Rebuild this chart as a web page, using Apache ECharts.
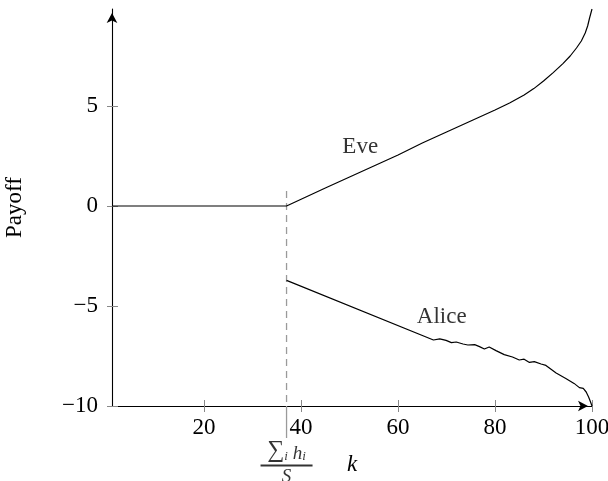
<!DOCTYPE html>
<html>
<head>
<meta charset="utf-8">
<script src="https://cdn.jsdelivr.net/npm/echarts@6/dist/echarts.min.js"></script>
<style>
html,body{margin:0;padding:0;background:#fff;}
#c{width:608px;height:481px;}
</style>
</head>
<body>
<div id="c"></div>
<script>
// ---- data ----
const xRange = [1, 100];
const yRange = [-10, 9.85];
const xTickValues = [20, 40, 60, 80, 100];
const yTickValues = [-10, -5, 0, 5];

const eveX = [1, 37, 45, 50, 55, 60, 65, 70, 75, 80, 83, 86, 88, 90, 92, 94, 95.5, 96.8, 97.8, 98.6, 99.1, 99.5, 100];
const eveY = [0, 0, 0.9, 1.45, 2.0, 2.55, 3.15, 3.7, 4.25, 4.8, 5.15, 5.55, 5.87, 6.25, 6.67, 7.12, 7.5, 7.9, 8.25, 8.65, 9.0, 9.4, 9.85];

const aliceX = [37, 67.3, 68.6, 69.9, 71, 72, 73.4, 74.4, 75.8, 76.8, 77.8, 78.8, 80.2, 81.9, 83.6, 85, 86, 87.1, 88.1, 89.5, 90.5, 92.6, 94.6, 96.3, 97.4, 98.2, 98.8, 99.3, 99.7, 100];
const aliceY = [-3.72, -6.7, -6.64, -6.72, -6.83, -6.8, -6.9, -6.95, -6.93, -7.03, -7.15, -7.05, -7.23, -7.43, -7.55, -7.7, -7.66, -7.82, -7.78, -7.9, -7.97, -8.35, -8.62, -8.87, -9.08, -9.12, -9.3, -9.55, -9.8, -10];

const thresholdX = 37;          // sum_i h_i / S
const thresholdDash = [0.75, -10];
const thresholdTick = [-10, -11.6];

const curveLabels = [
  {name: 'Eve', x: 52.2, y: 2.95},
  {name: 'Alice', x: 69.0, y: -5.55}
];
const xName = 'k';
const yName = 'Payoff';

// ---- chart ----
const zip = (a, b) => a.map((v, i) => [v, b[i]]);
const serif = 'Liberation Serif';
const chart = echarts.init(document.getElementById('c'), null, {renderer: 'canvas'});

const baseX = {
  type: 'value', min: xRange[0], max: xRange[1], gridIndex: 0,
  splitLine: {show: false}
};
const baseY = {
  type: 'value', min: yRange[0], max: yRange[1], gridIndex: 0,
  splitLine: {show: false}
};

chart.setOption({
  animation: false,
  backgroundColor: '#fff',
  grid: {left: 112, right: 16, top: 9, bottom: 75, containLabel: false, outerBoundsMode: 'none'},
  xAxis: [
    Object.assign({}, baseX, {
      position: 'bottom',
      name: xName, nameLocation: 'middle', nameGap: 47,
      nameTextStyle: {fontFamily: serif, fontStyle: 'italic', fontSize: 23, color: '#000'},
      axisLine: {show: true, onZero: false, symbol: ['none', 'arrow'], symbolSize: [8, 10], symbolOffset: [0, -4],
        lineStyle: {color: '#000', width: 1.1}},
      axisTick: {show: true, inside: false, length: 6, customValues: xTickValues, lineStyle: {color: '#888', width: 1}},
      axisLabel: {show: true, customValues: xTickValues, margin: 10, fontFamily: serif, fontSize: 23, color: '#000'}
    }),
    Object.assign({}, baseX, {
      position: 'bottom',
      axisLine: {show: false, onZero: false},
      axisTick: {show: true, inside: true, length: 6, customValues: xTickValues, lineStyle: {color: '#888', width: 1}},
      axisLabel: {show: false}
    })
  ],
  yAxis: [
    Object.assign({}, baseY, {
      position: 'left',
      name: yName, nameLocation: 'middle', nameGap: 86, nameRotate: 90,
      nameTextStyle: {fontFamily: serif, fontSize: 23, color: '#000'},
      axisLine: {show: true, onZero: false, symbol: ['none', 'arrow'], symbolSize: [8, 10], symbolOffset: [0, -4],
        lineStyle: {color: '#000', width: 1.1}},
      axisTick: {show: true, inside: false, length: 5, customValues: yTickValues, lineStyle: {color: '#888', width: 1}},
      axisLabel: {show: true, customValues: yTickValues, margin: 14, fontFamily: serif, fontSize: 23, color: '#000',
        formatter: v => (v < 0 ? '\u2212' + Math.abs(v) : String(v))}
    }),
    Object.assign({}, baseY, {
      position: 'left',
      axisLine: {show: false, onZero: false},
      axisTick: {show: true, inside: true, length: 6, customValues: yTickValues, lineStyle: {color: '#888', width: 1}},
      axisLabel: {show: false}
    })
  ],
  series: [
    {
      type: 'line', name: 'threshold-dash', xAxisIndex: 0, yAxisIndex: 0,
      data: [[thresholdX, thresholdDash[0]], [thresholdX, thresholdDash[1]]],
      symbol: 'none', silent: true, z: 1,
      lineStyle: {color: '#9a9a9a', width: 1.3, type: [7, 5]}
    },
    {
      type: 'line', name: 'threshold-tick', xAxisIndex: 0, yAxisIndex: 0, clip: false,
      data: [[thresholdX, thresholdTick[0]], [thresholdX, thresholdTick[1]]],
      symbol: 'none', silent: true, z: 1,
      lineStyle: {color: '#9a9a9a', width: 1.3}
    },
    {
      type: 'scatter', name: 'threshold-label', xAxisIndex: 0, yAxisIndex: 0, clip: false,
      data: [[thresholdX, thresholdTick[1]]], symbolSize: 0, silent: true,
      label: {
        show: true, position: 'bottom', distance: 3,
        formatter: '{sum|\u2211}{sub|i}{h| h}{sub|i}\n{bar| }\n{den|S}',
        rich: {
          sum: {fontFamily: serif, fontSize: 24, color: '#000', lineHeight: 22, verticalAlign: 'bottom'},
          sub: {fontFamily: serif, fontStyle: 'italic', fontSize: 13, color: '#000', lineHeight: 15, verticalAlign: 'bottom'},
          h: {fontFamily: serif, fontStyle: 'italic', fontSize: 19, color: '#000', lineHeight: 22, verticalAlign: 'bottom'},
          bar: {width: 52, height: 2, backgroundColor: '#000', lineHeight: 5, fontSize: 1},
          den: {fontFamily: serif, fontStyle: 'italic', fontSize: 19, color: '#000', lineHeight: 18}
        },
        align: 'center', color: '#000'
      }
    },
    {
      type: 'line', name: 'Eve', xAxisIndex: 0, yAxisIndex: 0,
      data: zip(eveX, eveY), symbol: 'none', smooth: false, z: 3,
      lineStyle: {color: '#000', width: 1.2}
    },
    {
      type: 'line', name: 'Alice', xAxisIndex: 0, yAxisIndex: 0,
      data: zip(aliceX, aliceY), symbol: 'none', smooth: false, z: 3,
      lineStyle: {color: '#000', width: 1.2}
    },
    {
      type: 'scatter', name: 'labels', xAxisIndex: 0, yAxisIndex: 0,
      data: curveLabels.map(d => ({name: d.name, value: [d.x, d.y]})),
      symbolSize: 0, silent: true,
      label: {show: true, position: 'inside', formatter: p => p.name,
        fontFamily: serif, fontSize: 23, color: '#000'}
    }
  ]
});
</script>
</body>
</html>
